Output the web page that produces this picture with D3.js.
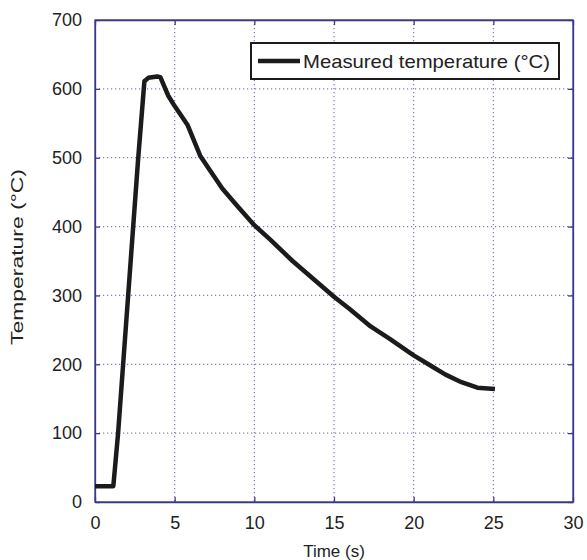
<!DOCTYPE html>
<html>
<head>
<meta charset="utf-8">
<script src="https://cdn.jsdelivr.net/npm/d3@7"></script>
<style>
  body { margin: 0; background: #fff; }
  svg text { font-family: "Liberation Sans", Arial, sans-serif; fill: #222; }
</style>
</head>
<body>
<div id="chart"></div>
<script>
// measured curve
var timeS = [0, 1.15, 1.45, 2.7, 3.1, 3.35, 3.9, 4.1, 4.6, 5.0, 5.8, 6.6, 7.2, 8.0, 9.0, 10.0, 11.0, 12.4, 14.0, 15.0, 16.0, 17.3, 18.5, 20.0, 21.0, 22.0, 23.0, 24.0, 25.1];
var tempC = [23, 23, 100, 496, 611, 616, 618, 617, 590, 575, 548, 503, 482, 455, 428, 402, 381, 350, 318, 298, 280, 255, 237, 213, 199, 185, 174, 166, 164];
var xTicks = [0, 5, 10, 15, 20, 25, 30];
var yTicks = [0, 100, 200, 300, 400, 500, 600, 700];
var seriesName = "Measured temperature (°C)";

var W = 587, H = 560;
var margin = {top: 20, right: 14, bottom: 58, left: 95};
var width = W - margin.left - margin.right,
    height = H - margin.top - margin.bottom;

var axisColor = "#3a3a8a";
var gridColor = "#7c7cc0";

var svg = d3.select("#chart").append("svg")
    .attr("width", W)
    .attr("height", H);

var g = svg.append("g")
    .attr("transform", "translate(" + margin.left + "," + margin.top + ")");

var x = d3.scaleLinear().domain([0, 30]).range([0, width]);
var y = d3.scaleLinear().domain([0, 700]).range([height, 0]);

// dotted grid
g.append("g").attr("class", "grid")
  .selectAll("line.gx")
  .data(xTicks.slice(1, -1))
  .enter().append("line")
    .attr("x1", function(d) { return x(d); })
    .attr("x2", function(d) { return x(d); })
    .attr("y1", 0).attr("y2", height)
    .style("stroke", gridColor)
    .style("stroke-width", 1.2)
    .style("stroke-dasharray", "1.2,2.8");

g.append("g").attr("class", "grid")
  .selectAll("line.gy")
  .data(yTicks.slice(1, -1))
  .enter().append("line")
    .attr("y1", function(d) { return y(d); })
    .attr("y2", function(d) { return y(d); })
    .attr("x1", 0).attr("x2", width)
    .style("stroke", gridColor)
    .style("stroke-width", 1.2)
    .style("stroke-dasharray", "1.2,2.8");

// axes with small inward ticks
g.append("g")
    .attr("transform", "translate(0," + height + ")")
    .call(d3.axisBottom(x).tickValues(xTicks).tickSizeInner(-5).tickSizeOuter(0).tickPadding(14));
g.append("g")
    .call(d3.axisLeft(y).tickValues(yTicks).tickSizeInner(-5).tickSizeOuter(0).tickPadding(13));
g.append("g")
    .call(d3.axisTop(x).tickValues(xTicks).tickSizeInner(-5).tickSizeOuter(0).tickFormat(""));
g.append("g")
    .attr("transform", "translate(" + width + ",0)")
    .call(d3.axisRight(y).tickValues(yTicks).tickSizeInner(-5).tickSizeOuter(0).tickFormat(""));

g.selectAll(".domain, .tick line").style("stroke", axisColor).style("stroke-width", 1.3);
g.selectAll(".tick text").style("font-size", "18px").style("fill", "#222");

// frame
g.append("rect")
    .attr("width", width).attr("height", height)
    .style("fill", "none")
    .style("stroke", axisColor)
    .style("stroke-width", 1.3);

// curve
var line = d3.line()
    .x(function(d, i) { return x(timeS[i]); })
    .y(function(d) { return y(d); });

g.append("path")
    .datum(tempC)
    .attr("d", line)
    .style("fill", "none")
    .style("stroke", "#1c1a1a")
    .style("stroke-width", 4.5)
    .style("stroke-linejoin", "round");

// legend
var leg = g.append("g").attr("transform", "translate(" + (width - 322) + ",23)");
leg.append("rect")
    .attr("width", 308).attr("height", 36)
    .style("fill", "#fff")
    .style("stroke", "#1c1a1a")
    .style("stroke-width", 2);
leg.append("line")
    .attr("x1", 7).attr("x2", 49).attr("y1", 18).attr("y2", 18)
    .style("stroke", "#1c1a1a")
    .style("stroke-width", 4.5);
leg.append("text")
    .attr("x", 52).attr("y", 25)
    .attr("textLength", 247)
    .attr("lengthAdjust", "spacingAndGlyphs")
    .style("font-size", "19px")
    .text(seriesName);

// axis titles
svg.append("text")
    .attr("x", margin.left + width / 2)
    .attr("y", H - 3)
    .attr("text-anchor", "middle")
    .style("font-size", "17px")
    .text("Time (s)");

svg.append("text")
    .attr("transform", "translate(23," + (margin.top + 237) + ") rotate(-90)")
    .attr("text-anchor", "middle")
    .attr("textLength", 176)
    .attr("lengthAdjust", "spacingAndGlyphs")
    .style("font-size", "17px")
    .text("Temperature (°C)");
</script>
</body>
</html>
